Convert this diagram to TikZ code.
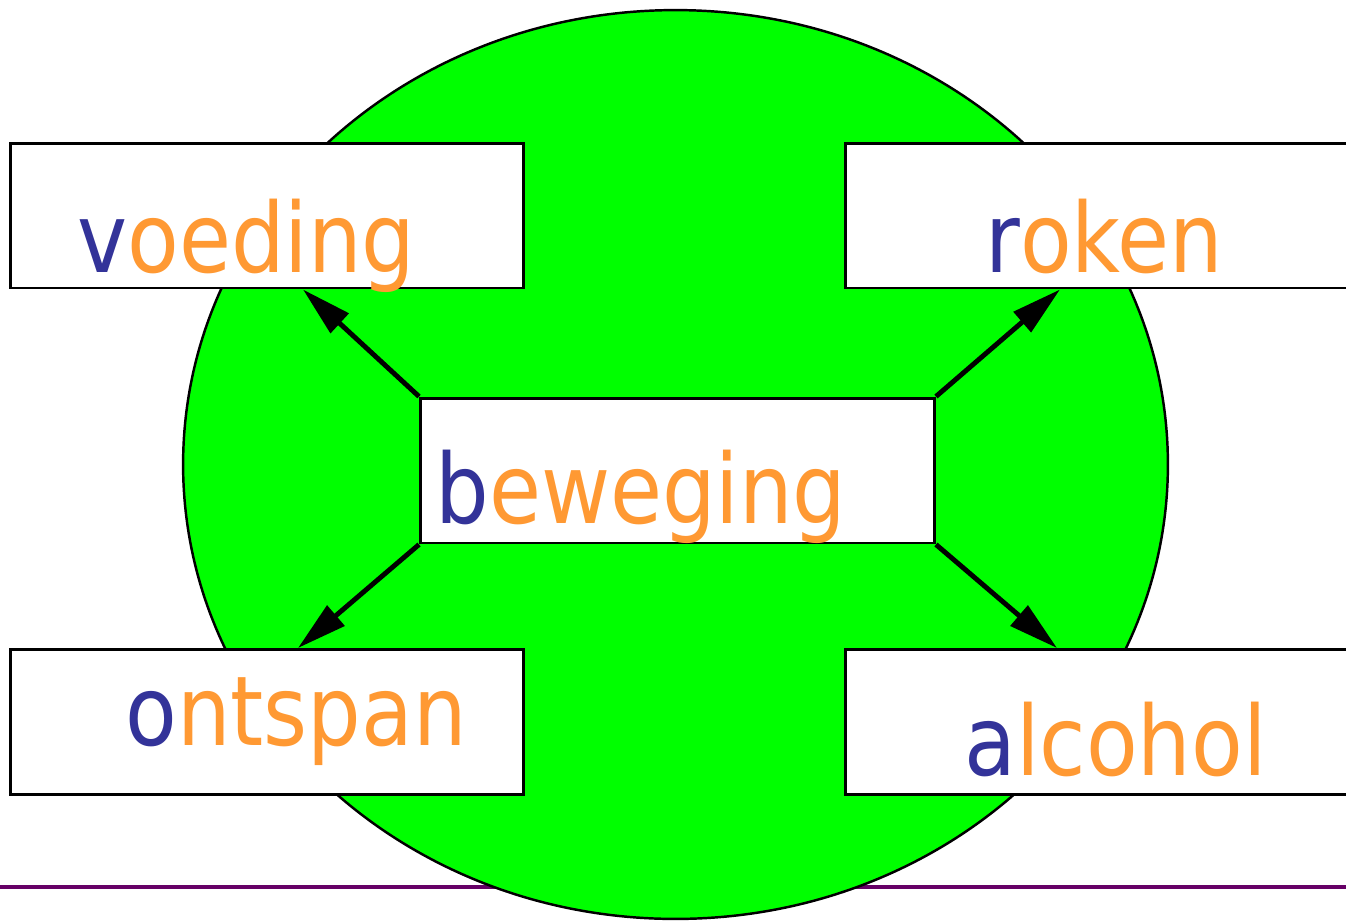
\documentclass[tikz,border=0pt]{standalone}
\usepackage{fontspec}
\setmainfont[FakeStretch=0.875]{DejaVu Sans}
\usepackage{xcolor}
\usetikzlibrary{arrows.meta}
\definecolor{kgreen}{HTML}{00FF00}
\definecolor{kblue}{HTML}{333399}
\definecolor{korange}{HTML}{FF9933}
\definecolor{kpurple}{HTML}{660066}
\newcommand{\eerste}[1]{\textcolor{kblue}{#1}}
\tikzset{
  kbox/.style={draw=black,line width=1.7pt,fill=white,minimum width=10.28cm,minimum height=2.9cm,inner sep=0pt},
  kword/.style={anchor=base west,inner sep=0pt,text=korange,font=\fontsize{55}{66}\selectfont},
  kpijl/.style={-{Triangle[length=1cm,width=0.52cm]},line width=2.8pt,black},
}
\begin{document}
\begin{tikzpicture}[x=0.02cm,y=-0.02cm]
  \useasboundingbox (0,0) rectangle (1346,921);
  \draw[kpurple,line width=2pt] (0,887) -- (1346,887);
  \draw[fill=kgreen,line width=1.4pt] (675.5,464.5) ellipse [x radius=9.85cm,y radius=9.09cm];
  \node[kbox] (voeding) at (267,215.5) {};
  \node[kbox] (roken) at (1102,215.5) {};
  \node[kbox] (beweging) at (677.5,470.5) {};
  \node[kbox] (ontspan) at (267,722) {};
  \node[kbox] (alcohol) at (1102,722) {};
  \node[kword] (tvoeding) at (77,272) {\eerste{v}oeding};
  \node[kword] (troken) at (985,272) {\eerste{r}oken};
  \node[kword] (tbeweging) at (435,523) {\eerste{b}eweging};
  \node[kword] (tontspan) at (125,745) {\eerste{o}ntspan};
  \node[kword] (talcohol) at (964,775) {\eerste{a}lcohol};
  \draw[kpijl] (beweging.north west) -- ([xshift=0.72cm]voeding.south);
  \draw[kpijl] (beweging.north east) -- ([xshift=-0.84cm]roken.south);
  \draw[kpijl] (beweging.south west) -- ([xshift=0.62cm]ontspan.north);
  \draw[kpijl] (beweging.south east) -- ([xshift=-0.9cm]alcohol.north);
\end{tikzpicture}
\end{document}
